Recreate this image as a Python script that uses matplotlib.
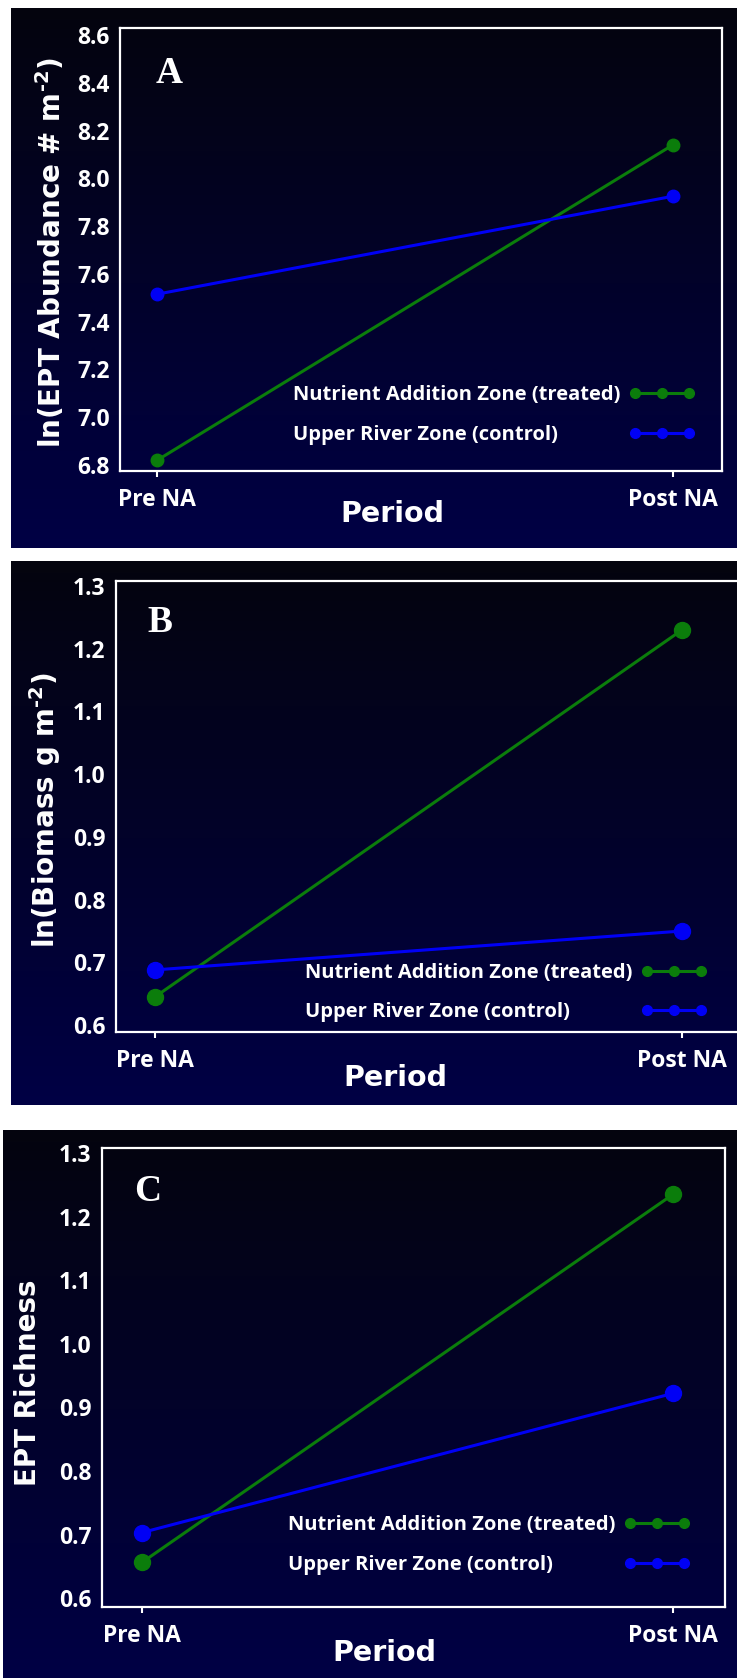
import numpy as np
import matplotlib
matplotlib.use('Agg')
import matplotlib.pyplot as plt
from matplotlib.lines import Line2D
from matplotlib.legend_handler import HandlerLine2D
from matplotlib.colors import LinearSegmentedColormap

# EPT response before / after nutrient addition
periods = ['Pre NA', 'Post NA']

abund_treated = [6.82, 8.14]
abund_control = [7.515, 7.925]
biomass_treated = [0.645, 1.23]
biomass_control = [0.688, 0.75]
rich_treated = [0.656, 1.235]
rich_control = [0.703, 0.922]

abund_ticks = [6.8, 7.0, 7.2, 7.4, 7.6, 7.8, 8.0, 8.2, 8.4, 8.6]
small_ticks = [0.6, 0.7, 0.8, 0.9, 1.0, 1.1, 1.2, 1.3]

lab_treated = 'Nutrient Addition Zone (treated)'
lab_control = 'Upper River Zone (control)'

GREEN = '#0b7d0b'
BLUE = '#0000f5'
W, H = 737, 1678
KEY_FS = 14.5

fig = plt.figure(figsize=(W / 100, H / 100), dpi=100)
fig.patch.set_facecolor('white')

navy = LinearSegmentedColormap.from_list('navy', [(0.0, 0.0, 0.27), (0.016, 0.016, 0.055)])
grad = np.linspace(0, 1, 256).reshape(-1, 1)


def backdrop(x0, y0, x1, y1):
    bg = fig.add_axes([x0 / W, 1 - y1 / H, (x1 - x0) / W, (y1 - y0) / H], zorder=0)
    bg.imshow(grad, aspect='auto', cmap=navy, origin='lower', extent=[0, 1, 0, 1])
    bg.set_axis_off()


def panel(box, xl, yl, ticks, treated, control, ylabel, letter, ms,
          ylab_pos, per_pos, let_pos, key_pos):
    x0, y0, x1, y1 = box
    ax = fig.add_axes([x0 / W, 1 - y1 / H, (x1 - x0) / W, (y1 - y0) / H], zorder=2)
    ax.patch.set_alpha(0)
    ax.plot(periods, treated, color=GREEN, lw=2.2, marker='o', ms=ms, zorder=3)
    ax.plot(periods, control, color=BLUE, lw=2.2, marker='o', ms=ms, zorder=3)
    ax.set_xlim(*xl)
    ax.set_ylim(*yl)
    ax.set_yticks(ticks)
    ax.set_yticklabels(['%.1f' % t for t in ticks])
    for s in ax.spines.values():
        s.set_color('white')
        s.set_linewidth(1.6)
    ax.tick_params(axis='y', length=0, pad=7.5, labelcolor='white')
    ax.tick_params(axis='x', length=4.5, width=1.5, color='white', pad=8,
                   labelcolor='white')
    for lab in ax.get_xticklabels() + ax.get_yticklabels():
        lab.set_fontfamily('Open Sans')
        lab.set_fontweight('bold')
        lab.set_fontsize(16.5)

    ax.set_ylabel(ylabel, color='white', fontsize=20, fontweight='bold',
                  family='DejaVu Sans', va='center', ha='center')
    ax.yaxis.set_label_coords(*ylab_pos)
    ax.set_xlabel('Period', color='white', fontsize=20.5, fontweight='bold',
                  family='DejaVu Sans', va='center', ha='center')
    ax.xaxis.set_label_coords(*per_pos)
    ax.text(let_pos[0], let_pos[1], letter, transform=ax.transAxes, color='white',
            fontsize=27, fontweight='bold', family='Liberation Serif',
            ha='center', va='center')

    blank = Line2D([], [], linestyle='none')
    kt = Line2D([], [], color=GREEN, lw=2.2, marker='o', ms=7)
    kc = Line2D([], [], color=BLUE, lw=2.2, marker='o', ms=7)
    ax.legend([blank, blank, kt, kc], [lab_treated, lab_control, '', ''],
              ncols=2, loc='center left', bbox_to_anchor=key_pos,
              bbox_transform=fig.transFigure, frameon=False,
              handlelength=3.25, handletextpad=0.4, columnspacing=0.45,
              labelspacing=0.95, borderpad=0, borderaxespad=0,
              prop={'family': 'Open Sans', 'weight': 'bold', 'size': KEY_FS},
              labelcolor='white',
              handler_map={Line2D: HandlerLine2D(numpoints=3)})
    return ax


backdrop(11, 8, 737, 548)
backdrop(11, 561, 737, 1105)
backdrop(3, 1130, 737, 1678)

fs_px = KEY_FS * 100 / 72
lead = (3.25 + 0.4) * fs_px
sup = '$^{\\mathregular{\u20102}}$'

panel((120, 28, 722, 471), (-0.072, 1.095), (6.775, 8.629), abund_ticks,
      abund_treated, abund_control, 'ln(EPT Abundance # m' + sup + ')', 'A', 9,
      (-0.116, 0.492), (0.452, -0.097), (0.081, 0.898),
      ((293 - lead) / W, 1 - 415 / H))

panel((116, 581, 740, 1032), (-0.074, 1.11), (0.589, 1.308), small_ticks,
      biomass_treated, biomass_control, 'ln(Biomass g m' + sup + ')', 'B', 11.5,
      (-0.114, 0.492), (0.447, -0.102), (0.07, 0.907),
      ((305 - lead) / W, 1 - 992.5 / H))

panel((102, 1148, 725, 1607), (-0.075, 1.098), (0.586, 1.308), small_ticks,
      rich_treated, rich_control, 'EPT Richness', 'C', 11.5,
      (-0.119, 0.488), (0.453, -0.100), (0.074, 0.906),
      ((288 - lead) / W, 1 - 1545 / H))

fig.savefig('out.png', dpi=100, facecolor='white')
